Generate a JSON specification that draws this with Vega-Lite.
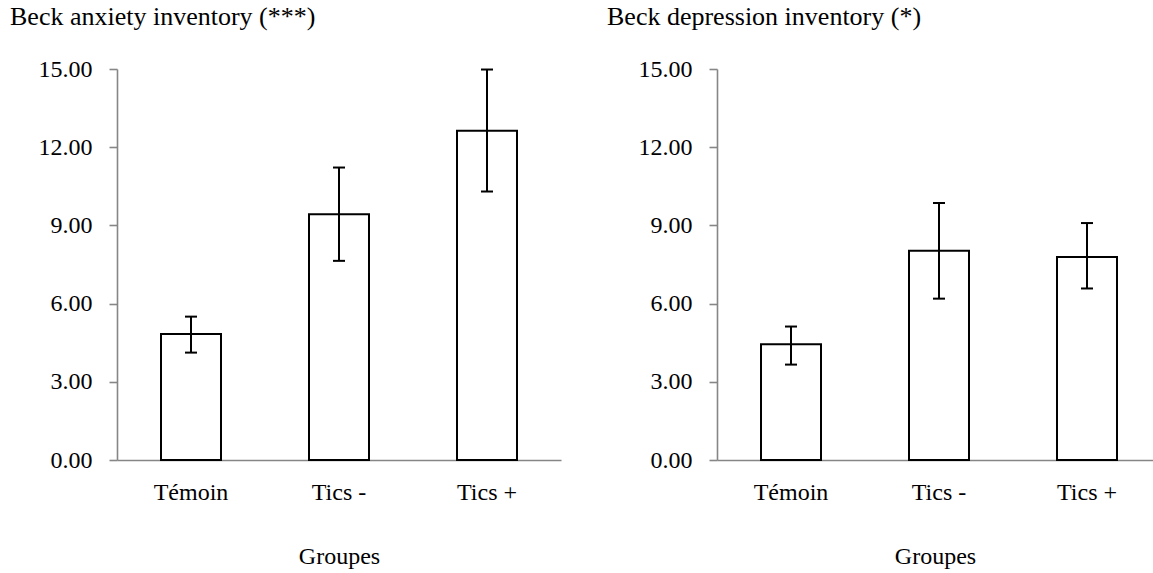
{
  "$schema": "https://vega.github.io/schema/vega-lite/v6.json",
  "background": "white",
  "padding": {"left": 10, "top": 4, "right": 0, "bottom": 4},
  "spacing": 156,
  "bounds": "flush",
  "datasets": {
    "beck": [
      {"panel": "anxiety", "group": "Témoin", "mean": 4.83, "lo": 4.12, "hi": 5.5},
      {"panel": "anxiety", "group": "Tics -", "mean": 9.43, "lo": 7.64, "hi": 11.22},
      {"panel": "anxiety", "group": "Tics +", "mean": 12.63, "lo": 10.3, "hi": 14.98},
      {"panel": "depression", "group": "Témoin", "mean": 4.44, "lo": 3.66, "hi": 5.12},
      {"panel": "depression", "group": "Tics -", "mean": 8.03, "lo": 6.19, "hi": 9.86},
      {"panel": "depression", "group": "Tics +", "mean": 7.79, "lo": 6.58, "hi": 9.09}
    ]
  },
  "config": {
    "font": "Liberation Serif",
    "view": {"stroke": null},
    "title": {"font": "Liberation Serif", "fontSize": 26, "fontWeight": "normal", "color": "black"},
    "axis": {
      "labelFont": "Liberation Serif",
      "labelFontSize": 24,
      "labelColor": "black",
      "titleFont": "Liberation Serif",
      "titleFontSize": 24,
      "titleFontWeight": "normal",
      "titleColor": "black",
      "domainColor": "#868686",
      "domainWidth": 1.6,
      "tickColor": "#868686",
      "tickWidth": 1.6,
      "grid": false,
      "zindex": 1
    }
  },
  "hconcat": [
    {
      "title": {"text": "Beck anxiety inventory (***)", "anchor": "start", "frame": "group", "dx": -107, "offset": 27},
      "width": 444,
      "height": 391,
      "data": {"name": "beck"},
      "transform": [{"filter": "datum.panel === 'anxiety'"}],
      "encoding": {
        "x": {
          "field": "group", "type": "nominal", "sort": ["Témoin", "Tics -", "Tics +"],
          "scale": {"paddingInner": 0.5946, "paddingOuter": 0.2973},
          "axis": {"title": "Groupes", "ticks": false, "labelAngle": 0, "labelPadding": 20, "titlePadding": 40}
        }
      },
      "layer": [
        {
          "mark": {"type": "bar", "fill": "white", "stroke": "black", "strokeWidth": 2},
          "encoding": {
            "y": {
              "field": "mean", "type": "quantitative",
              "scale": {"domain": [0, 15], "nice": false},
              "axis": {"title": null, "values": [0, 3, 6, 9, 12, 15], "format": ".2f", "tickSize": 8, "labelPadding": 17}
            }
          }
        },
        {
          "mark": {"type": "rule", "color": "black", "strokeWidth": 2},
          "encoding": {"y": {"field": "lo", "type": "quantitative"}, "y2": {"field": "hi"}}
        },
        {
          "mark": {"type": "tick", "color": "black", "size": 12, "thickness": 2, "opacity": 1},
          "encoding": {"y": {"field": "lo", "type": "quantitative"}}
        },
        {
          "mark": {"type": "tick", "color": "black", "size": 12, "thickness": 2, "opacity": 1},
          "encoding": {"y": {"field": "hi", "type": "quantitative"}}
        }
      ]
    },
    {
      "title": {"text": "Beck depression inventory (*)", "anchor": "start", "frame": "group", "dx": -110, "offset": 27},
      "width": 436,
      "height": 391,
      "data": {"name": "beck"},
      "transform": [{"filter": "datum.panel === 'depression'"}],
      "encoding": {
        "x": {
          "field": "group", "type": "nominal", "sort": ["Témoin", "Tics -", "Tics +"],
          "scale": {"paddingInner": 0.5946, "paddingOuter": 0.2703, "align": 0.55},
          "axis": {"title": "Groupes", "ticks": false, "labelAngle": 0, "labelPadding": 20, "titlePadding": 40}
        }
      },
      "layer": [
        {
          "mark": {"type": "bar", "fill": "white", "stroke": "black", "strokeWidth": 2},
          "encoding": {
            "y": {
              "field": "mean", "type": "quantitative",
              "scale": {"domain": [0, 15], "nice": false},
              "axis": {"title": null, "values": [0, 3, 6, 9, 12, 15], "format": ".2f", "tickSize": 8, "labelPadding": 17}
            }
          }
        },
        {
          "mark": {"type": "rule", "color": "black", "strokeWidth": 2},
          "encoding": {"y": {"field": "lo", "type": "quantitative"}, "y2": {"field": "hi"}}
        },
        {
          "mark": {"type": "tick", "color": "black", "size": 12, "thickness": 2, "opacity": 1},
          "encoding": {"y": {"field": "lo", "type": "quantitative"}}
        },
        {
          "mark": {"type": "tick", "color": "black", "size": 12, "thickness": 2, "opacity": 1},
          "encoding": {"y": {"field": "hi", "type": "quantitative"}}
        }
      ]
    }
  ]
}
